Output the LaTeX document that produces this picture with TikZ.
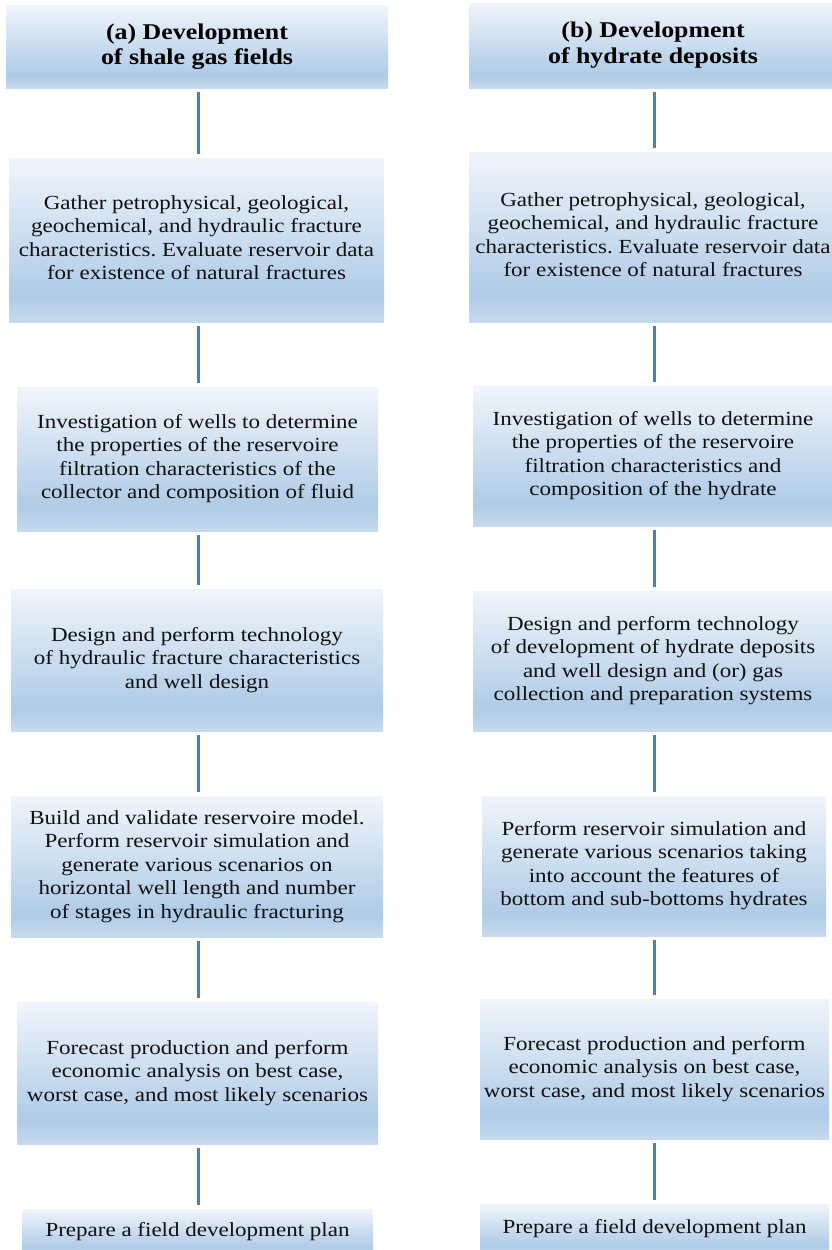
\documentclass[tikz,border=0pt]{standalone}
\usepackage{fontspec}
\usepackage{graphicx}
\setmainfont{Liberation Serif}
\frenchspacing
\definecolor{bT}{HTML}{F0F5FB}
\definecolor{bM}{HTML}{AFCBE7}
\definecolor{bB}{HTML}{C6DAEE}
\definecolor{ln}{HTML}{4A7EBB}
\definecolor{tx}{HTML}{111111}
\pgfdeclareverticalshading{boxgrad}{100bp}{color(0bp)=(bB); color(25bp)=(bB); color(33bp)=(bM); color(75bp)=(bT); color(100bp)=(bT)}
\newcommand{\stx}[1]{\scalebox{1.15}[1]{\begin{tabular}{@{}c@{}}#1\end{tabular}}}
\begin{document}
\begin{tikzpicture}[x=1pt,y=-1pt,
  box/.style={shading=boxgrad, inner sep=0pt, text=tx,
    font=\frenchspacing\fontsize{20}{23.5}\selectfont},
  titlebox/.style={box, text=black, font=\bfseries\fontsize{22.5}{25}\selectfont},
  conn/.style={draw=ln, line width=3pt, shorten <=4pt, shorten >=4pt}]
\useasboundingbox (0,0) rectangle (832,1250);
\clip (0,0) rectangle (832,1250);
% left column
\node[titlebox, minimum width=382pt, minimum height=83pt] (a1) at (197,46.5)
  {\stx{(a) Development\\of shale gas fields}};
\node[box, minimum width=375pt, minimum height=164pt] (a2) at (196.5,240)
  {\stx{Gather petrophysical, geological,\\geochemical, and hydraulic fracture\\characteristics. Evaluate reservoir data\\for existence of natural fractures}};
\node[box, minimum width=361pt, minimum height=144pt] (a3) at (197.5,459)
  {\stx{Investigation of wells to determine\\the properties of the reservoire\\filtration characteristics of the\\collector and composition of fluid}};
\node[box, minimum width=372pt, minimum height=142pt] (a4) at (197,660)
  {\stx{Design and perform technology\\of hydraulic fracture characteristics\\and well design}};
\node[box, minimum width=372pt, minimum height=141pt] (a5) at (197,866.5)
  {\stx{Build and validate reservoire model.\\Perform reservoir simulation and\\generate various scenarios on\\horizontal well length and number\\of stages in hydraulic fracturing}};
\node[box, minimum width=361pt, minimum height=142pt] (a6) at (197.5,1073)
  {\stx{Forecast production and perform\\economic analysis on best case,\\worst case, and most likely scenarios}};
\node[box, minimum width=351pt, minimum height=46pt] (a7) at (197.5,1232)
  {\stx{Prepare a field development plan}};
% right column
\node[titlebox, minimum width=368pt, minimum height=85pt] (b1) at (653,45.5)
  {\stx{(b) Development\\of hydrate deposits}};
\node[box, minimum width=368pt, minimum height=170pt] (b2) at (653,237)
  {\stx{Gather petrophysical, geological,\\geochemical, and hydraulic fracture\\characteristics. Evaluate reservoir data\\for existence of natural fractures}};
\node[box, minimum width=360pt, minimum height=140pt] (b3) at (653,456)
  {\stx{Investigation of wells to determine\\the properties of the reservoire\\filtration characteristics and\\composition of the hydrate}};
\node[box, minimum width=360pt, minimum height=140pt] (b4) at (653,661)
  {\stx{Design and perform technology\\of development of hydrate deposits\\and well design and (or) gas\\collection and preparation systems}};
\node[box, minimum width=344pt, minimum height=140pt] (b5) at (654,866)
  {\stx{Perform reservoir simulation and\\generate various scenarios taking\\into account the features of\\bottom and sub-bottoms hydrates}};
\node[box, minimum width=349pt, minimum height=140pt] (b6) at (654.5,1069)
  {\stx{Forecast production and perform\\economic analysis on best case,\\worst case, and most likely scenarios}};
\node[box, minimum width=349pt, minimum height=50pt] (b7) at (654.5,1229)
  {\stx{Prepare a field development plan}};
% connectors
\foreach \u/\v in {a1/a2,a2/a3,a3/a4,a4/a5,a5/a6,a6/a7}
  \draw[conn] (\u.south -| 198,0) -- (\v.north -| 198,0);
\foreach \u/\v in {b1/b2,b2/b3,b3/b4,b4/b5,b5/b6,b6/b7}
  \draw[conn] (\u.south -| 654,0) -- (\v.north -| 654,0);
\end{tikzpicture}
\end{document}
